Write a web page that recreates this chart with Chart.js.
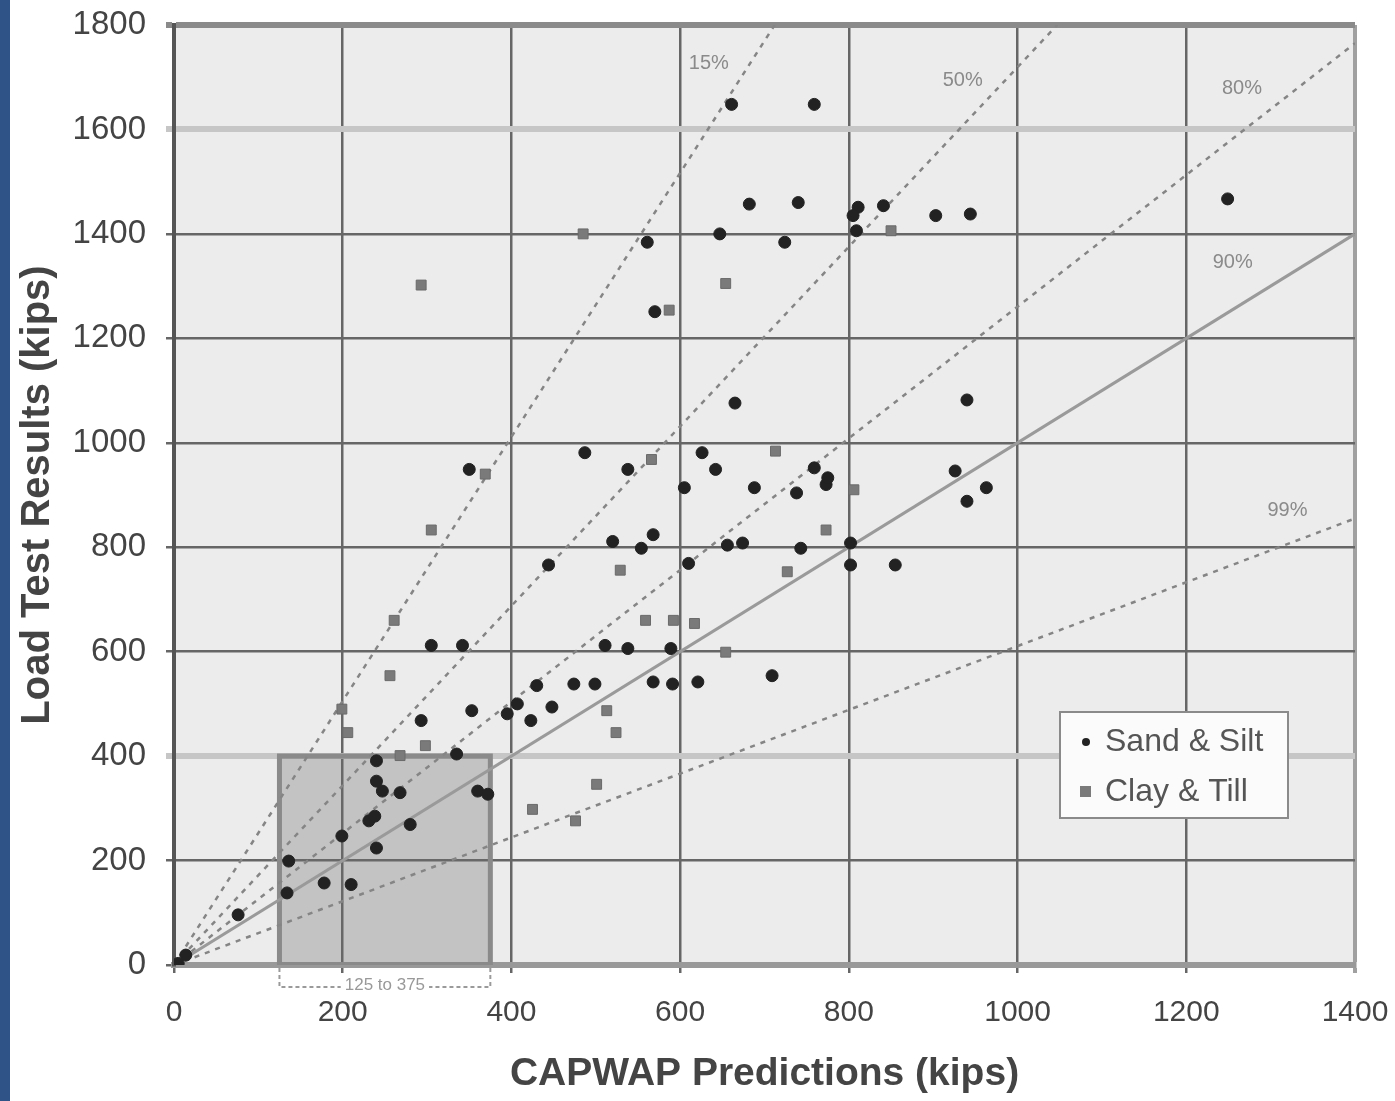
<!DOCTYPE html>
<html>
<head>
<meta charset="utf-8">
<script src="https://cdn.jsdelivr.net/npm/chart.js@4.4.0/dist/chart.umd.min.js"></script>
<style>
body { margin: 0; background: #fff; }
</style>
</head>
<body>
<canvas id="grafico" width="1395" height="1101"></canvas>
<script>
// valores (kips) - [CAPWAP, ensaio de carga]
var areia_silte = [
    [661,1648],[759,1648],[682,1457],[740,1460],[811,1451],[805,1435],[841,1454],[903,1435],[944,1438],
    [809,1406],[724,1384],[561,1384],[647,1400],[1249,1467],[570,1251],[665,1076],[940,1082],
    [487,981],[350,949],[538,949],[626,981],[642,949],[605,914],[688,914],[738,904],[773,920],
    [759,952],[775,933],[926,946],[963,914],[940,888],
    [444,766],[520,811],[554,798],[568,824],[610,769],[656,804],[674,808],[743,798],[802,808],
    [802,766],[855,766],
    [305,612],[342,612],[511,612],[538,606],[589,606],[568,542],[591,538],[621,542],[709,554],
    [474,538],[499,538],[430,535],
    [293,468],[353,487],[395,481],[407,500],[423,468],[448,494],
    [240,391],[335,404],[240,352],[247,333],[268,330],[231,276],[238,285],[199,247],[280,269],
    [240,224],[136,199],[134,138],[178,157],[210,154],[76,96],[360,333],[372,327],[14,19],[5,3]
];
var argila_till = [
    [485,1400],[850,1406],[293,1302],[654,1305],[587,1254],[369,940],[566,968],[713,984],[806,910],
    [305,833],[773,833],[529,756],[727,753],[261,660],[559,660],[592,660],[617,654],[654,599],
    [256,554],[199,490],[206,445],[513,487],[524,445],[298,420],[268,401],[501,346],[425,298],[476,276]
];
var series = ['Sand & Silt', 'Clay & Till'];
// linhas de percentagem (saem da origem)
var linhas_pct = ['15%', '50%', '80%', '90%', '99%'];
var fim_linhas = [[712,1800],[1047,1800],[1400,1765],[1400,1400],[1400,855]];
var ancora_rotulos = [[634,1727],[935,1694],[1266,1679],[1255,1345],[1320,871]];
// faixa sombreada
var faixa_x = [125, 375];
var faixa_y = 400;
var faixa_texto = '125 to 375';
var ticks_x = [0,200,400,600,800,1000,1200,1400];
var ticks_y = [0,200,400,600,800,1000,1200,1400,1600,1800];

function pontos(lista) {
    return lista.map(function (p) { return { x: p[0], y: p[1] }; });
}

var datasets = [
    {
        label: series[0],
        data: pontos(areia_silte),
        pointStyle: 'circle',
        pointRadius: 6,
        backgroundColor: '#222',
        borderColor: '#222',
        borderWidth: 1
    },
    {
        label: series[1],
        data: pontos(argila_till),
        pointStyle: 'rect',
        pointRadius: 7,
        backgroundColor: '#7a7a7a',
        borderColor: '#6a6a6a',
        borderWidth: 1
    }
];
for (var i = 0; i < fim_linhas.length; i++) {
    datasets.push({
        label: linhas_pct[i],
        data: [{ x: 0, y: 0 }, { x: fim_linhas[i][0], y: fim_linhas[i][1] }],
        showLine: true,
        pointRadius: 0,
        borderColor: i == 3 ? '#9a9a9a' : '#858585',
        borderWidth: i == 3 ? 3 : 2.5,
        borderDash: i == 3 ? [] : [5, 6],
        fill: false
    });
}
datasets.push({
    label: 'faixa',
    data: [{ x: faixa_x[0], y: 0 }, { x: faixa_x[0], y: faixa_y }, { x: faixa_x[1], y: faixa_y }, { x: faixa_x[1], y: 0 }],
    showLine: true,
    pointRadius: 0,
    borderColor: '#8a8a8a',
    borderWidth: 5,
    backgroundColor: 'rgba(110,110,110,0.32)',
    fill: 'origin'
});

//FUNDO, ROTULOS E LEGENDA
var desenhos = {
    id: 'desenhos',
    beforeDraw: function (chart) {
        var ctx = chart.ctx, a = chart.chartArea;
        ctx.save();
        ctx.fillStyle = '#fff';
        ctx.fillRect(0, 0, chart.width, chart.height);
        ctx.fillStyle = '#ececec';
        ctx.fillRect(a.left, a.top, a.right - a.left, a.bottom - a.top);
        ctx.fillStyle = '#2f5386';
        ctx.fillRect(0, 0, 10, chart.height);
        ctx.restore();
    },
    afterDraw: function (chart) {
        var ctx = chart.ctx, sx = chart.scales.x, sy = chart.scales.y, a = chart.chartArea;
        ctx.save();
        // rotulos das linhas
        ctx.font = '20px "Liberation Sans", Arial, sans-serif';
        ctx.fillStyle = '#8a8a8a';
        ctx.textAlign = 'center';
        ctx.textBaseline = 'middle';
        for (var i = 0; i < linhas_pct.length; i++) {
            ctx.fillText(linhas_pct[i], sx.getPixelForValue(ancora_rotulos[i][0]), sy.getPixelForValue(ancora_rotulos[i][1]));
        }
        // colchete abaixo da faixa
        var x1 = sx.getPixelForValue(faixa_x[0]), x2 = sx.getPixelForValue(faixa_x[1]);
        var yb = a.bottom + 22;
        ctx.strokeStyle = '#9a9a9a';
        ctx.lineWidth = 2;
        ctx.setLineDash([4, 3]);
        ctx.beginPath();
        ctx.moveTo(x1, a.bottom + 3); ctx.lineTo(x1, yb); ctx.lineTo(x2, yb); ctx.lineTo(x2, a.bottom + 3);
        ctx.stroke();
        ctx.setLineDash([]);
        ctx.font = '17px "Liberation Sans", Arial, sans-serif';
        var tw = ctx.measureText(faixa_texto).width;
        ctx.fillStyle = '#fff';
        ctx.fillRect((x1 + x2) / 2 - tw / 2 - 4, yb - 10, tw + 8, 20);
        ctx.fillStyle = '#999';
        ctx.fillText(faixa_texto, (x1 + x2) / 2, yb - 2);
        // legenda
        var lx = 1060, ly = 712, lw = 228, lh = 106;
        ctx.fillStyle = '#fbfbfb';
        ctx.fillRect(lx, ly, lw, lh);
        ctx.strokeStyle = '#8a8a8a';
        ctx.lineWidth = 2;
        ctx.strokeRect(lx, ly, lw, lh);
        ctx.font = '32px "Liberation Sans", Arial, sans-serif';
        ctx.textAlign = 'left';
        ctx.fillStyle = '#555';
        ctx.fillText(series[0], lx + 45, ly + 30);
        ctx.fillText(series[1], lx + 45, ly + 80);
        ctx.fillStyle = '#222';
        ctx.beginPath();
        ctx.arc(lx + 26, ly + 30, 4, 0, Math.PI * 2);
        ctx.fill();
        ctx.fillStyle = '#7a7a7a';
        ctx.fillRect(lx + 20, ly + 74, 11, 11);
        ctx.restore();
    }
};

function cor_grade(v, eixo) {
    if (eixo == 'y' && (v == 1600 || v == 400)) return '#c6c6c6';
    if (eixo == 'y' && v == 1800) return '#8a8a8a';
    if (eixo == 'x' && v == 1400) return '#a0a0a0';
    return '#666';
}
function largura_grade(v, eixo) {
    if (eixo == 'y' && (v == 1600 || v == 400)) return 6;
    if (eixo == 'y' && v == 1800) return 6;
    if (eixo == 'x' && v == 1400) return 4;
    return 2.5;
}
function sem_virgula(v) {
    return String(v);
}

var ctx = document.getElementById('grafico').getContext('2d');
var myChart = new Chart(ctx, {
    type: 'scatter',
    data: { datasets: datasets },
    plugins: [desenhos],
    options: {
        responsive: false,
        animation: false,
        layout: { padding: { left: 0, top: 25, right: 40, bottom: 0 } },
        plugins: { legend: { display: false }, tooltip: { enabled: false } },
        scales: {
            x: {
                type: 'linear',
                min: 0,
                max: 1400,
                afterBuildTicks: function (s) { s.ticks = ticks_x.map(function (v) { return { value: v }; }); },
                afterFit: function (s) { s.height = 136; s.paddingLeft = 0; s.paddingRight = 0; },
                ticks: {
                    color: '#444',
                    padding: 22,
                    maxRotation: 0,
                    callback: sem_virgula,
                    font: { family: '"Liberation Sans", Arial, sans-serif', size: 30 }
                },
                grid: {
                    color: function (c) { return cor_grade(c.tick ? c.tick.value : 0, 'x'); },
                    lineWidth: function (c) { return largura_grade(c.tick ? c.tick.value : 0, 'x'); },
                    tickLength: 8
                },
                border: { color: '#999', width: 6 },
                title: {
                    display: true,
                    text: 'CAPWAP Predictions (kips)',
                    color: '#444',
                    padding: { top: 4, bottom: 3 },
                    font: { family: '"Liberation Sans", Arial, sans-serif', size: 39, weight: 'bold' }
                }
            },
            y: {
                type: 'linear',
                min: 0,
                max: 1800,
                afterBuildTicks: function (s) { s.ticks = ticks_y.map(function (v) { return { value: v }; }); },
                afterFit: function (s) { s.width = 174; s.paddingTop = 0; s.paddingBottom = 0; },
                ticks: {
                    color: '#444',
                    padding: 20,
                    callback: sem_virgula,
                    font: { family: '"Liberation Sans", Arial, sans-serif', size: 33 }
                },
                grid: {
                    color: function (c) { return cor_grade(c.tick ? c.tick.value : 0, 'y'); },
                    lineWidth: function (c) { return largura_grade(c.tick ? c.tick.value : 0, 'y'); },
                    tickLength: 8
                },
                border: { color: '#555', width: 4 },
                title: {
                    display: true,
                    text: 'Load Test Results (kips)',
                    color: '#444',
                    padding: { top: 14, bottom: 0 },
                    font: { family: '"Liberation Sans", Arial, sans-serif', size: 40, weight: 'bold' }
                }
            }
        }
    }
});
</script>
</body>
</html>
